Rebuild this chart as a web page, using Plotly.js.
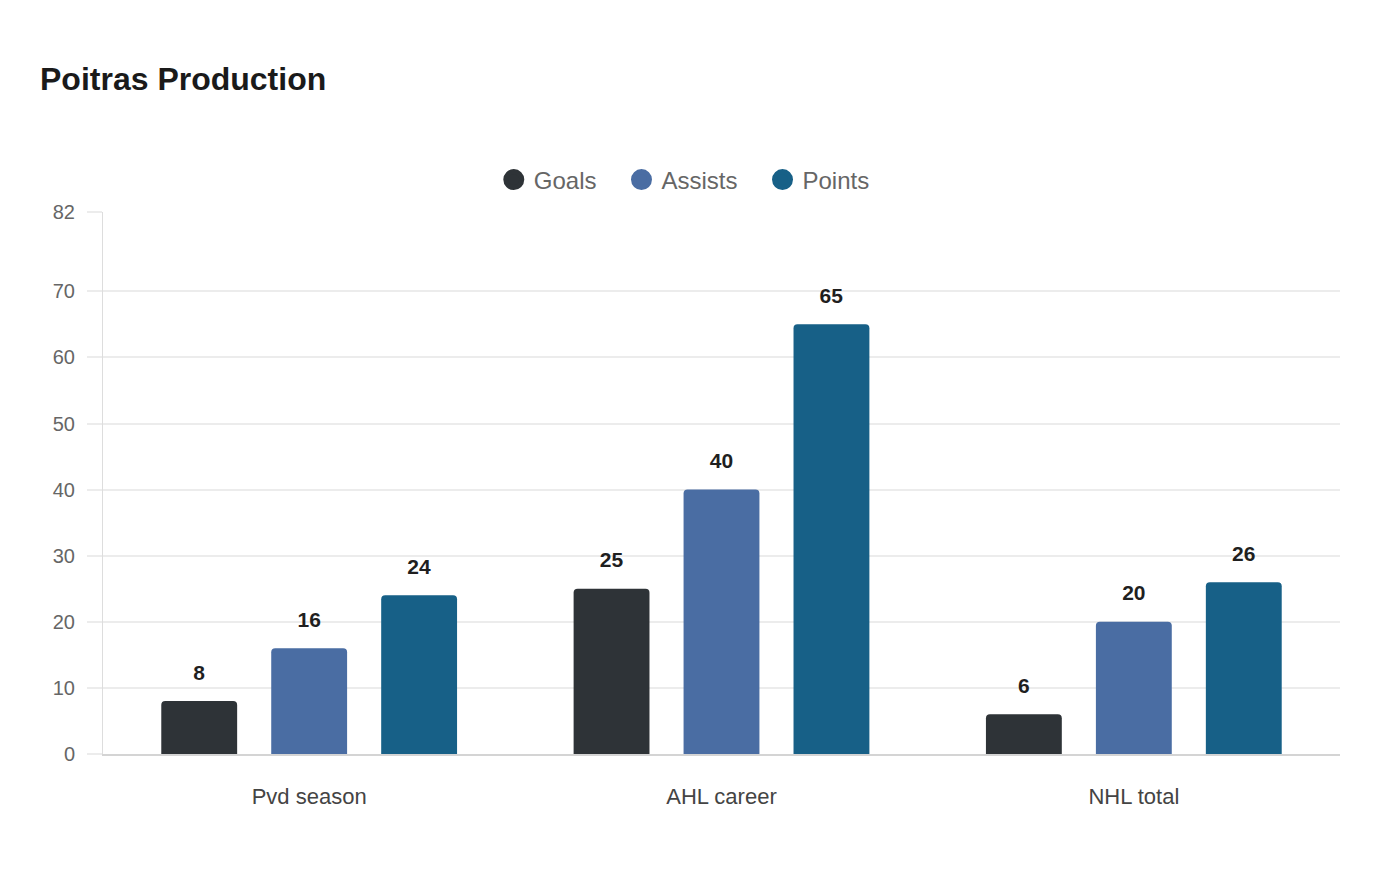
<!DOCTYPE html>
<html>
<head>
<meta charset="utf-8">
<script src="https://cdn.plot.ly/plotly-3.0.1.min.js"></script>
<style>
  html, body { margin: 0; padding: 0; background: #fff; }
  #chart { width: 1400px; height: 880px; }
</style>
</head>
<body>
<div id="chart"></div>
<script>
// data
const categories = ['Pvd season', 'AHL career', 'NHL total'];
const seriesNames = ['Goals', 'Assists', 'Points'];
const goals = [8, 25, 6];
const assists = [16, 40, 20];
const points = [24, 65, 26];
const yTicks = [0, 10, 20, 30, 40, 50, 60, 70, 82];

const COLORS = ['#2e3337', '#4a6da3', '#176087'];
const FONT = '"Liberation Sans", Arial, sans-serif';

const values = [goals, assists, points];

const bars = seriesNames.map((name, i) => ({
  type: 'bar',
  name,
  x: categories,
  y: values[i],
  marker: { color: COLORS[i], cornerradius: 4 },
  // small blank second line lifts the label off the bar top
  text: values[i].map((v) => `<span style="font-size:21px">${v}</span><br>&nbsp;`),
  textposition: 'outside',
  cliponaxis: false,
  textfont: { family: FONT, size: 12, color: '#1f1f1f', weight: 'bold' },
  hoverinfo: 'x+y',
  showlegend: false,
}));

// legend-only entries so the legend shows round swatches
const legendDots = seriesNames.map((name, i) => ({
  type: 'scatter',
  mode: 'markers',
  name: name + '&nbsp;&nbsp;&nbsp;',
  x: [categories[0]],
  y: [null],
  marker: { color: COLORS[i], size: 16, symbol: 'circle', line: { color: COLORS[i], width: 5 } },
  hoverinfo: 'skip',
}));

Plotly.newPlot('chart', [...bars, ...legendDots], {
  width: 1400,
  height: 880,
  paper_bgcolor: '#fff',
  plot_bgcolor: '#fff',
  margin: { l: 103, r: 60, t: 212, b: 126 },
  font: { family: FONT, color: '#666' },
  title: {
    text: 'Poitras Production',
    font: { family: FONT, size: 32, color: '#1a1a1a', weight: 'bold' },
    xref: 'container',
    yref: 'container',
    x: 40 / 1400,
    xanchor: 'left',
    y: 1 - 79 / 880,
    yanchor: 'middle',
  },
  barmode: 'group',
  bargap: 0.2,
  bargroupgap: 0.31,
  showlegend: true,
  legend: {
    orientation: 'h',
    x: 0.478,
    xanchor: 'center',
    y: 1.059,
    yanchor: 'middle',
    font: { family: FONT, size: 24, color: '#666' },
    bgcolor: 'rgba(0,0,0,0)',
  },
  xaxis: {
    type: 'category',
    showgrid: false,
    showline: true,
    linecolor: '#d4d4d4',
    linewidth: 1.5,
    ticks: '',
    tickfont: { family: FONT, size: 22, color: '#444' },
    ticklabelstandoff: 22,
    fixedrange: true,
  },
  yaxis: {
    range: [0, 82],
    tickvals: yTicks,
    showgrid: true,
    gridcolor: '#ececec',
    gridwidth: 1.5,
    zeroline: false,
    showline: true,
    linecolor: '#dddddd',
    linewidth: 1,
    ticks: 'outside',
    ticklen: 15,
    tickcolor: '#ececec',
    tickwidth: 1.5,
    tickfont: { family: FONT, size: 20, color: '#666' },
    ticklabelstandoff: 8,
    fixedrange: true,
  },
}, { displayModeBar: false, responsive: false });
</script>
</body>
</html>
